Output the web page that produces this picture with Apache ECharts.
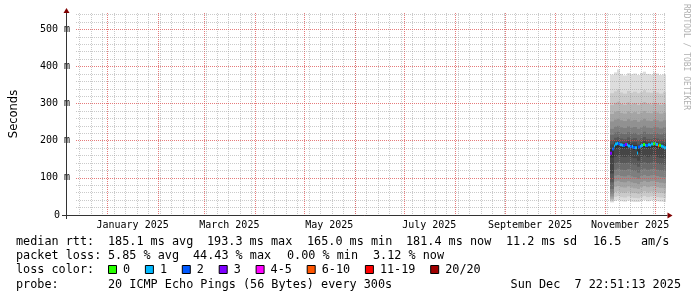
<!DOCTYPE html>
<html><head><meta charset="utf-8">
<script src="https://cdn.jsdelivr.net/npm/echarts@6/dist/echarts.min.js"></script>
<style>html,body{margin:0;padding:0;background:#fff}#c{width:697px;height:297px}</style>
</head><body><div id="c"></div>
<script>
// ---- time axis (days since axis start) ----
const axisStartUTC = Date.UTC(2024, 11, 12, 22, 51, 13);
const axisEndUTC = Date.UTC(2025, 11, 7, 22, 51, 13);
const labelMonths = ['January 2025', 'March 2025', 'May 2025', 'July 2025', 'September 2025', 'November 2025'];
const labelMonthIdx = [0, 2, 4, 6, 8, 10];
const yMaxMs = 544;
const yLabelStep = 100;

// ---- median rtt per day (ms) and lost pings (of 20) ----
const medianDay = [326,327,328,329,330,331,332,333,334,335,336,337,338,339,340,341,342,343,344,345,346,347,348,349,350,351,352,353,354,355,356,357,358,359];
const medianMs  = [166,178,186,191,193,192,189,188,187,190,189,186,184,185,182,181,167,183,185,187,190,188,187,189,188,191,192,193,190,186,188,185,183,181];
const lostPings = [3,2,1,1,1,2,1,1,2,3,1,1,2,1,2,1,1,2,1,1,0,1,2,1,1,1,0,1,1,7,0,1,1,1];

// ---- smoke: 20 sorted pings per 2-day bin (ms) ----
const smokeDay = [326,328,330,332,334,336,338,340,342,344,346,348,350,352,354,356,358];
const ping20 = [378,384,392,380,376,382,379,381,377,383,386,380,378,384,381,377,379];
const ping19 = [328,333,338,330,327,334,329,332,328,331,336,330,329,334,330,327,331];
const ping18 = [296,302,305,299,297,303,298,301,296,300,304,299,298,302,300,297,300];
const ping17 = [272,278,280,275,273,279,274,277,272,276,280,275,274,278,276,273,276];
const ping16 = [252,257,259,255,253,258,254,256,251,255,259,254,253,257,255,252,255];
const ping15 = [232,238,240,236,234,239,235,237,232,236,240,235,234,238,236,233,236];
const ping14 = [216,222,224,220,218,223,219,221,216,220,224,219,218,222,220,217,220];
const ping13 = [202,208,210,206,204,209,205,207,202,206,210,205,204,208,206,203,205];
const ping12 = [190,198,200,196,195,199,195,196,190,196,200,196,197,199,196,193,194];
const ping11 = [178,192,194,191,190,193,190,188,184,191,194,191,193,194,191,189,188];
const ping10 = [155,178,182,180,179,181,178,175,168,179,182,179,182,183,180,178,176];
const ping09 = [112,156,159,157,156,158,155,153,146,156,159,156,158,159,156,154,153];
const ping08 = [88,139,142,140,139,141,138,136,130,139,142,139,141,142,139,137,136];
const ping07 = [70,122,125,122,121,124,121,119,114,122,125,122,124,125,122,120,119];
const ping06 = [58,106,108,105,104,107,104,102,98,105,108,105,107,108,105,103,102];
const ping05 = [50,90,92,89,88,91,88,86,83,89,92,89,91,92,89,87,86];
const ping04 = [44,76,78,75,74,77,74,72,70,75,78,75,77,78,75,73,72];
const ping03 = [40,62,64,61,60,63,60,59,57,61,64,61,63,64,61,60,59];
const ping02 = [37,49,51,48,47,50,47,46,45,48,51,48,50,51,48,47,46];
const ping01 = [34,38,40,37,36,39,36,35,35,37,40,37,39,40,37,36,35];

// ---- legend ----
const lossLabels = ['0', '1', '2', '3', '4-5', '6-10', '11-19', '20/20'];
const lossColors = ['#26ff00', '#00b8ff', '#0059ff', '#7e00ff', '#ff00ff', '#ff5500', '#ff0000', '#a00000'];
const lossUpper = [0, 1, 2, 3, 5, 10, 19, 20];

// ---------------------------------------------------------------
const DAY = 86400000;
const toDay = t => (t - axisStartUTC) / DAY;
const spanDays = toDay(axisEndUTC);
const monthStarts = [];
for (let m = 0; m <= 11; m++) monthStarts.push(toDay(Date.UTC(2025, m, 1)));
const weekLines = [];
for (let t = Date.UTC(2024, 11, 15); t < axisEndUTC; t += 7 * DAY) weekLines.push(toDay(t));
const labelDays = labelMonthIdx.map(m => (toDay(Date.UTC(2025, m, 1)) + toDay(Date.UTC(2025, m + 1, 1))) / 2);
const vGridData = weekLines.map(d => [d, 0]).concat(monthStarts.map(d => [d, 1]));

const pings = [ping01,ping02,ping03,ping04,ping05,ping06,ping07,ping08,ping09,ping10,ping11,ping12,ping13,ping14,ping15,ping16,ping17,ping18,ping19,ping20];
const smokeData = smokeDay.map((d, i) => [d, d + 2].concat(pings.map(p => p[i])));
const lossIndex = n => lossUpper.findIndex(u => n <= u);
const medianData = medianDay.map((d, i) => [d, d + 1, medianMs[i], lostPings[i]]);

const GRIDC = 'rgba(150,150,150,0.5)';
const MGRIDC = 'rgba(222,79,79,0.75)';
const AXISC = '#333333';
const MONO = 'DejaVu Sans Mono';

const chart = echarts.init(document.getElementById('c'), null, {renderer: 'canvas', width: 697, height: 297});

const graphics = [];
graphics.push({type: 'polygon', shape: {points: [[667.5, 212.5], [672.5, 215.5], [667.5, 218.5]]}, style: {fill: '#800000'}, z: 100});
graphics.push({type: 'polygon', shape: {points: [[63.5, 13], [66.5, 8], [69.5, 13]]}, style: {fill: '#800000'}, z: 100});
graphics.push({type: 'line', shape: {x1: 62, y1: 215.5, x2: 667.5, y2: 215.5}, style: {stroke: AXISC, lineWidth: 1}, z: 99});
graphics.push({type: 'line', shape: {x1: 66.5, y1: 219, x2: 66.5, y2: 12}, style: {stroke: AXISC, lineWidth: 1}, z: 99});
graphics.push({type: 'text', x: 686, y: 4, rotation: -Math.PI / 2,
  style: {text: 'RRDTOOL / TOBI OETIKER', font: '8px ' + MONO, fill: '#b0b0b0', textAlign: 'left', textVerticalAlign: 'middle'}});
const LF = '11.8px "' + MONO + '"';
function txt(s, x, y, align) {
  graphics.push({type: 'text', x: x, y: y, style: {text: s, font: LF, fill: '#000', textAlign: align || 'left', textVerticalAlign: 'middle'}});
}
const rttParts = [['median rtt:', 16], ['185.1 ms avg', 108], ['193.3 ms max', 207], ['165.0 ms min', 307], ['181.4 ms now', 406], ['11.2 ms sd', 506], ['16.5', 593], ['am/s', 641]];
rttParts.forEach(p => txt(p[0], p[1], 241.5));
const lossParts = [['packet loss:', 16], ['5.85 % avg', 108], ['44.43 % max', 193], ['0.00 % min', 287], ['3.12 % now', 373]];
lossParts.forEach(p => txt(p[0], p[1], 255.5));
txt('loss color:', 16, 269.5);
let lx = 108;
lossLabels.forEach((lab, i) => {
  graphics.push({type: 'rect', shape: {x: lx + 0.5, y: 265.5, width: 8, height: 8}, style: {fill: lossColors[i], stroke: '#000', lineWidth: 1}});
  txt(lab, lx + 15, 269.5);
  lx += 15 + lab.length * 7.1 + 14.8;
});
txt('probe:', 16, 284.5);
txt('20 ICMP Echo Pings (56 Bytes) every 300s', 108, 284.5);
txt('Sun Dec  7 22:51:13 2025', 681, 284.5, 'right');

const option = {
  animation: false,
  backgroundColor: '#ffffff',
  grid: {left: 66, right: 31, top: 13, bottom: 82, containLabel: false},
  xAxis: {
    type: 'value', min: 0, max: spanDays, position: 'bottom', z: 6,
    axisLine: {show: false},
    axisTick: {show: false},
    splitLine: {show: false},
    axisLabel: {
      show: true, customValues: labelDays, margin: 5,
      color: '#000', fontFamily: MONO, fontSize: 10,
      formatter: v => {
        let bi = 0;
        labelDays.forEach((d, i) => { if (Math.abs(d - v) < Math.abs(labelDays[bi] - v)) bi = i; });
        return labelMonths[bi];
      }
    }
  },
  yAxis: {
    type: 'value', min: 0, max: yMaxMs, interval: 20, z: 5,
    name: 'Seconds', nameLocation: 'middle', nameRotate: 90, nameGap: 56,
    nameTextStyle: {fontFamily: 'DejaVu Sans', fontSize: 11.5, color: '#000'},
    axisLine: {show: false}, axisTick: {show: false},
    axisLabel: {
      margin: 6, color: '#000', fontFamily: MONO, fontSize: 10, showMaxLabel: false,
      formatter: v => (v % yLabelStep !== 0 ? '' : (v === 0 ? '{z|0}' : (v + ' m'))),
      rich: {z: {fontFamily: MONO, fontSize: 10, color: '#000', padding: [0, 10, 0, 0]}}
    },
    splitLine: {show: true, showMinLine: true, showMaxLine: false,
      lineStyle: {color: [MGRIDC, GRIDC, GRIDC, GRIDC, GRIDC], type: [1, 1], width: 1}}
  },
  series: [
    {
      type: 'custom', silent: true, z: 2,
      data: smokeData,
      encode: {x: [0, 1], y: [2, 21]},
      renderItem: (params, api) => {
        const d0 = api.value(0), d1 = api.value(1);
        const children = [];
        for (let b = 1; b <= 10; b++) {
          const lo = api.value(1 + b), hi = api.value(22 - b);
          const p0 = api.coord([d0, hi]), p1 = api.coord([d1, lo]);
          const x0 = Math.round(p0[0]), x1 = Math.round(p1[0]);
          const g = Math.floor(190 / 10 * (10 - b)) + 50;
          children.push({type: 'rect', shape: {x: x0, y: p0[1], width: x1 - x0, height: p1[1] - p0[1]},
            style: {fill: 'rgb(' + g + ',' + g + ',' + g + ')'}});
        }
        return {type: 'group', children: children};
      }
    },
    {
      type: 'custom', silent: true, z: 3,
      data: medianData,
      encode: {x: [0, 1], y: 2},
      renderItem: (params, api) => {
        const p0 = api.coord([api.value(0), api.value(2)]);
        const p1 = api.coord([api.value(1), api.value(2)]);
        const x0 = Math.round(p0[0]), x1 = Math.round(p1[0]);
        return {type: 'rect', shape: {x: x0, y: p0[1] - 1.5, width: x1 - x0, height: 3},
          style: {fill: lossColors[lossIndex(api.value(3))]}};
      }
    },
    {
      type: 'custom', silent: true, z: 4,
      data: vGridData,
      encode: {x: 0},
      renderItem: (params, api) => {
        const top = api.coord([api.value(0), yMaxMs]);
        const bot = api.coord([api.value(0), 0]);
        const x = Math.round(top[0]) + 0.5;
        const major = api.value(1) === 1;
        return {type: 'line', shape: {x1: x, y1: top[1], x2: x, y2: bot[1]},
          style: {stroke: major ? MGRIDC : GRIDC, lineWidth: 1, lineDash: [1, 1]}, z2: major ? 2 : 1};
      }
    }
  ],
  graphic: graphics
};
chart.setOption(option);
</script></body></html>
